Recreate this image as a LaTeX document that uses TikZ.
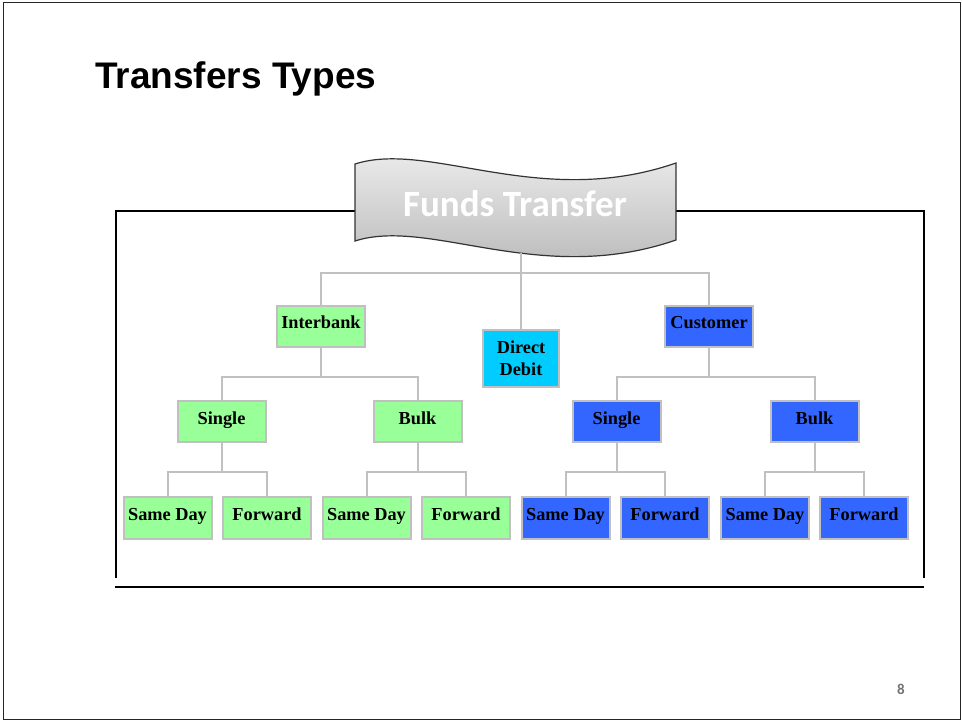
\documentclass[tikz,border=0pt]{standalone}
\usepackage{fontspec}
\setmainfont{Liberation Serif}
\newfontfamily\arialfont{Liberation Sans}
\newfontfamily\calfont{Carlito}
\definecolor{gfill}{HTML}{99FF99}
\definecolor{bfill}{HTML}{3366FF}
\definecolor{cfill}{HTML}{00CCFF}
\definecolor{edgegray}{HTML}{C0C0C0}
\tikzset{
  box/.style={draw=edgegray, line width=2pt, minimum width=88pt, minimum height=41pt,
    inner sep=0pt, text height=12pt, text depth=7pt,
    font=\bfseries\fontsize{18.3}{22}\selectfont, text=black},
  gbox/.style={box, fill=gfill},
  bbox/.style={box, fill=bfill},
  leafg/.style={gbox, minimum height=42pt},
  leafb/.style={bbox, minimum height=42pt},
  conn/.style={draw=edgegray, line width=2pt},
  framel/.style={draw=black, line width=2pt},
}
\begin{document}
\begin{tikzpicture}[x=1pt,y=-1pt]
\useasboundingbox (0,0) rectangle (962,722);
% slide frame
\draw[line width=1.5pt, draw=black!85] (3.5,2.5) rectangle (960.5,719.5);
% title
\node[anchor=base west, inner sep=0pt, font=\arialfont\bfseries\fontsize{37}{42}\selectfont] (title) at (95,89) {Transfers Types};
% inner frame
\draw[framel] (360,211) -- (116,211) -- (116,578);
\draw[framel] (670,211) -- (924,211) -- (924,578);
\draw[framel] (115,587) -- (924,587);
% banner
\path[draw=black!80, line width=1.2pt, top color=black!6, bottom color=black!30]
  (355,164) .. controls (430,140) and (540,210) .. (676,163)
  -- (676,240) .. controls (540,287) and (430,217) .. (355,241) -- cycle;
\node[font=\calfont\bfseries\fontsize{37}{42}\selectfont, text=white] (ft) at (515,204) {Funds Transfer};
\coordinate (ftb) at (521,253);
\coordinate (j0) at (521,273);
% level 1
\node[gbox] (ib) at (321,326.5) {Interbank};
\node[box, fill=cfill, minimum width=76pt, minimum height=57pt, align=center, text height=, text depth=] (dd) at (521,358.5) {Direct\\Debit};
\node[bbox] (cu) at (709,326.5) {Customer};
\draw[conn] (ftb) -- (dd.north);
\draw[conn] (j0) -| (ib.north);
\draw[conn] (j0) -| (cu.north);
% level 2
\node[gbox] (gs) at (221.5,421.5) {Single};
\node[gbox] (gb) at (417.5,421.5) {Bulk};
\node[bbox] (bs) at (616.5,421.5) {Single};
\node[bbox] (bb) at (814.5,421.5) {Bulk};
\draw[conn] (ib.south) -- ++(0,29) coordinate (j1);
\draw[conn] (j1) -| (gs.north);
\draw[conn] (j1) -| (gb.north);
\draw[conn] (cu.south) -- ++(0,29) coordinate (j2);
\draw[conn] (j2) -| (bs.north);
\draw[conn] (j2) -| (bb.north);
% level 3
\node[leafg] (l1) at (167.5,518) {Same Day};
\node[leafg] (l2) at (267,518) {Forward};
\node[leafg] (l3) at (366.5,518) {Same Day};
\node[leafg] (l4) at (466,518) {Forward};
\node[leafb] (l5) at (565.5,518) {Same Day};
\node[leafb] (l6) at (665,518) {Forward};
\node[leafb] (l7) at (765,518) {Same Day};
\node[leafb] (l8) at (864,518) {Forward};
\draw[conn] (gs.south) -- ++(0,29) coordinate (j3);
\draw[conn] (j3) -| (l1.north);
\draw[conn] (j3) -| (l2.north);
\draw[conn] (gb.south) -- ++(0,29) coordinate (j4);
\draw[conn] (j4) -| (l3.north);
\draw[conn] (j4) -| (l4.north);
\draw[conn] (bs.south) -- ++(0,29) coordinate (j5);
\draw[conn] (j5) -| (l5.north);
\draw[conn] (j5) -| (l6.north);
\draw[conn] (bb.south) -- ++(0,29) coordinate (j6);
\draw[conn] (j6) -| (l7.north);
\draw[conn] (j6) -| (l8.north);
% page number
\node[font=\calfont\bfseries\fontsize{15}{18}\selectfont, text=black!55] (pg) at (901,689) {8};
\end{tikzpicture}
\end{document}
